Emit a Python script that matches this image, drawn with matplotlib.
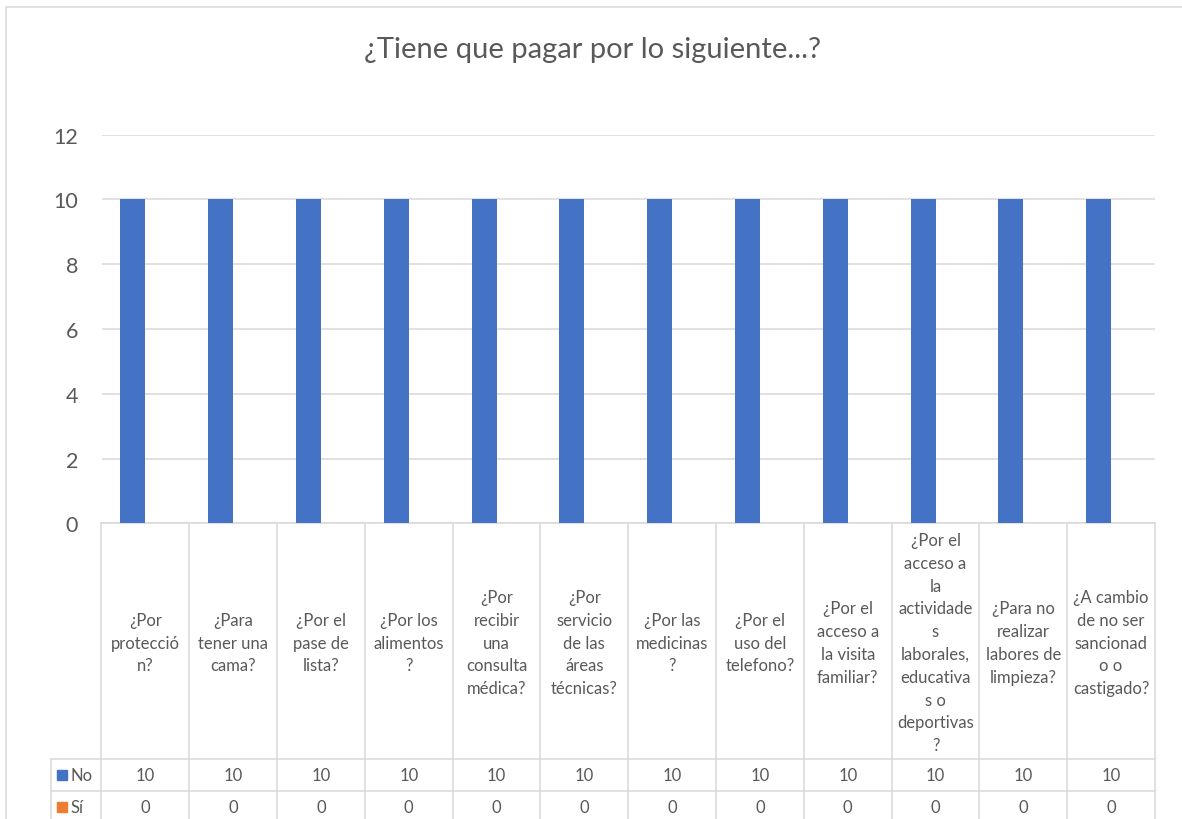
import matplotlib.pyplot as plt
from matplotlib.patches import Rectangle
from matplotlib.transforms import blended_transform_factory
import numpy as np

plt.rcParams['font.family'] = ['Lato', 'DejaVu Sans']

titulo = '¿Tiene que pagar por lo siguiente...?'
categorias = [
    '¿Por\nprotecció\nn?',
    '¿Para\ntener una\ncama?',
    '¿Por el\npase de\nlista?',
    '¿Por los\nalimentos\n?',
    '¿Por\nrecibir\nuna\nconsulta\nmédica?',
    '¿Por\nservicio\nde las\náreas\ntécnicas?',
    '¿Por las\nmedicinas\n?',
    '¿Por el\nuso del\ntelefono?',
    '¿Por el\nacceso a\nla visita\nfamiliar?',
    '¿Por el\nacceso a\nla\nactividade\ns\nlaborales,\neducativa\ns o\ndeportivas\n?',
    '¿Para no\nrealizar\nlabores de\nlimpieza?',
    '¿A cambio\nde no ser\nsancionad\no o\ncastigado?',
]
series = ['No', 'Sí']
valores_no = [10, 10, 10, 10, 10, 10, 10, 10, 10, 10, 10, 10]
valores_si = [0, 0, 0, 0, 0, 0, 0, 0, 0, 0, 0, 0]
colores = ['#4472C4', '#ED7D31']

GRIS = '#d9d9d9'
TEXTO = '#595959'
LW = 1.1

W, H = 1182, 820
ax_l, ax_r, ax_t, ax_b = 101.5, 1155, 135.7, 524.3

fig = plt.figure(figsize=(W / 100, H / 100), dpi=100)
ax = fig.add_axes([ax_l / W, 1 - ax_b / H, (ax_r - ax_l) / W, (ax_b - ax_t) / H])

n = len(categorias)
x = np.arange(n)
ancho = 0.285
ax.bar(x - ancho / 2, valores_no, ancho, color=colores[0], zorder=3)
ax.bar(x + ancho / 2, valores_si, ancho, color=colores[1], zorder=3)

ax.set_xlim(-0.5, n - 0.5)
ax.set_ylim(0, 12)
ax.set_yticks(range(0, 13, 2))
ax.set_xticks([])
ax.grid(axis='y', color=GRIS, lw=LW)
ax.set_axisbelow(True)
ax.tick_params(axis='y', length=0, pad=17, labelsize=15.5, labelcolor=TEXTO)
for s in ['top', 'right', 'left']:
    ax.spines[s].set_visible(False)
ax.spines['bottom'].set_color(GRIS)
ax.spines['bottom'].set_linewidth(LW)

# data table below the plot
col_w = (ax_r - ax_l) / n

def px_x(px):
    return -0.5 + (px - ax_l) / col_w

def px_y(py):
    return (ax_b - py) / (ax_b - ax_t)

tr = blended_transform_factory(ax.transData, ax.transAxes)
linea = dict(color=GRIS, lw=LW, transform=tr, clip_on=False)
fila_no, fila_si, fila_fin = 760, 792, 824

for i in range(n + 1):
    ax.plot([i - 0.5] * 2, [px_y(ax_b), px_y(fila_fin)], **linea)
x0 = px_x(51)
ax.plot([x0, x0], [px_y(fila_no), px_y(fila_fin)], **linea)
for fy in (fila_no, fila_si, fila_fin):
    ax.plot([x0, n - 0.5], [px_y(fy)] * 2, **linea)

# wrapped category labels, one text per line
paso = 22.8
centro = (ax_b + fila_no) / 2
for i, cat in enumerate(categorias):
    lineas = cat.split('\n')
    m = len(lineas)
    for k, txt in enumerate(lineas):
        yk = centro + (k - (m - 1) / 2) * paso
        ax.text(i, px_y(yk), txt, transform=tr, ha='center', va='center_baseline',
                fontsize=12, color=TEXTO)

filas = [(fila_no, fila_si), (fila_si, fila_fin)]
for (y0, y1), serie, vals, col in zip(filas, series, [valores_no, valores_si], colores):
    ym = (y0 + y1) / 2
    for i, v in enumerate(vals):
        ax.text(i, px_y(ym), f'{v}', transform=tr, ha='center', va='center',
                fontsize=12, color=TEXTO)
    ax.add_patch(Rectangle((px_x(57), px_y(ym + 5)), 10 / col_w, 10 / (ax_b - ax_t),
                           transform=tr, color=col, clip_on=False))
    ax.text(px_x(71), px_y(ym), serie, transform=tr, ha='left', va='center',
            fontsize=12, color=TEXTO)

fig.text(592 / W, 1 - 50 / H, titulo, ha='center', va='center', fontsize=21, color=TEXTO)

# outer chart border
fig.add_artist(Rectangle((5.5 / W, -0.1), 2, 1 - 7.5 / H + 0.1, transform=fig.transFigure,
                         fill=False, ec=GRIS, lw=LW))

fig.savefig('out.png', dpi=100)
